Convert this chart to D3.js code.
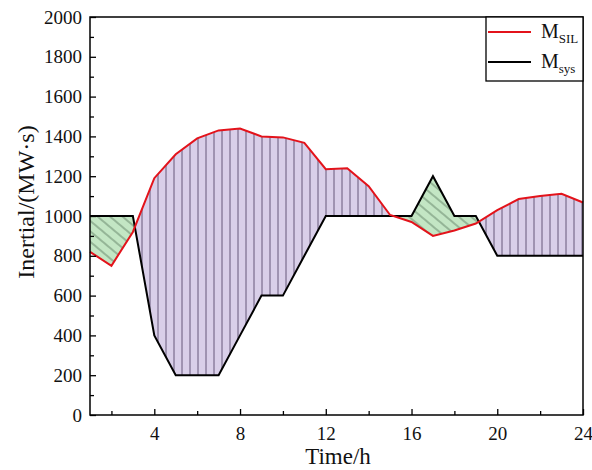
<!DOCTYPE html>
<html>
<head>
<meta charset="utf-8">
<script src="https://cdn.jsdelivr.net/npm/d3@7"></script>
<style>
  body { margin: 0; background: #fff; }
  svg text { font-family: "Liberation Serif", "Times New Roman", "DejaVu Serif", serif; fill: #111; }
</style>
</head>
<body>
<script>
// hours and the two inertia curves
const hours = d3.range(1, 25);
const mSIL = [820, 750, 920, 1190, 1310, 1390, 1430, 1440, 1400, 1395, 1368, 1235,
              1240, 1150, 1005, 970, 900, 927, 962, 1030, 1085, 1100, 1112, 1068];
const mSys = [1000, 1000, 1000, 400, 200, 200, 200, 400, 600, 600, 800, 1000,
              1000, 1000, 1000, 1000, 1200, 1000, 1000, 800, 800, 800, 800, 800];
const xMajor = [4, 8, 12, 16, 20, 24];
const xMinor = [2, 6, 10, 14, 18, 22];
const yMajor = d3.range(0, 2001, 200);
const yMinor = d3.range(100, 2000, 200);

const serif = '"Liberation Serif", "Times New Roman", "DejaVu Serif", serif';
const width = 592, height = 470;
const margin = {top: 17, right: 9, bottom: 55, left: 90};
const w = width - margin.left - margin.right;
const h = height - margin.top - margin.bottom;

const data = hours.map((t, i) => ({t: t, sil: mSIL[i], sys: mSys[i]}));

const svg = d3.select('body').append('svg')
  .attr('width', width)
  .attr('height', height)
  .attr('font-family', serif);

const x = d3.scaleLinear().domain([1, 24]).range([0, w]);
const y = d3.scaleLinear().domain([0, 2000]).range([h, 0]);

const defs = svg.append('defs');

const pv = defs.append('pattern')
  .attr('id', 'vlines').attr('patternUnits', 'userSpaceOnUse')
  .attr('width', 8).attr('height', 8);
pv.append('rect').attr('width', 8).attr('height', 8).attr('fill', '#d9cfe9');
pv.append('line').attr('x1', 4).attr('x2', 4).attr('y1', 0).attr('y2', 8)
  .attr('stroke', '#66587a').attr('stroke-width', 1);

const pg = defs.append('pattern')
  .attr('id', 'dlines').attr('patternUnits', 'userSpaceOnUse')
  .attr('width', 8).attr('height', 8)
  .attr('patternTransform', 'rotate(40)');
pg.append('rect').attr('width', 8).attr('height', 8).attr('fill', '#c3e6c4');
pg.append('line').attr('x1', 0).attr('x2', 8).attr('y1', 4).attr('y2', 4)
  .attr('stroke', '#4c6b52').attr('stroke-width', 0.8);

// clip regions above / below the black curve
defs.append('clipPath').attr('id', 'aboveSys')
  .append('path')
  .attr('d', d3.area().x(d => x(d.t)).y0(d => y(d.sys)).y1(y(2000))(data));
defs.append('clipPath').attr('id', 'belowSys')
  .append('path')
  .attr('d', d3.area().x(d => x(d.t)).y0(d => y(d.sys)).y1(y(0))(data));

const g = svg.append('g')
  .attr('transform', `translate(${margin.left},${margin.top})`);

const between = d3.area().x(d => x(d.t)).y0(d => y(d.sys)).y1(d => y(d.sil));

g.append('path').datum(data)
  .attr('d', between)
  .attr('fill', 'url(#vlines)')
  .attr('clip-path', 'url(#aboveSys)');

g.append('path').datum(data)
  .attr('d', between)
  .attr('fill', 'url(#dlines)')
  .attr('clip-path', 'url(#belowSys)');

const line = key => d3.line().x(d => x(d.t)).y(d => y(d[key]));

g.append('path').datum(data)
  .attr('d', line('sys'))
  .attr('fill', 'none').attr('stroke', '#000').attr('stroke-width', 2);

g.append('path').datum(data)
  .attr('d', line('sil'))
  .attr('fill', 'none').attr('stroke', '#e3131b').attr('stroke-width', 2);

// frame
g.append('rect')
  .attr('width', w).attr('height', h)
  .attr('fill', 'none').attr('stroke', '#000').attr('stroke-width', 1.5);

// axes with inward ticks
g.append('g').attr('transform', `translate(0,${h})`)
  .call(d3.axisBottom(x).tickValues(xMajor).tickSize(-6).tickPadding(12).tickFormat(d3.format('d')));
g.append('g').attr('transform', `translate(0,${h})`)
  .call(d3.axisBottom(x).tickValues(xMinor).tickSize(-4).tickFormat(''));
g.append('g')
  .call(d3.axisLeft(y).tickValues(yMajor).tickSize(-6).tickPadding(8).tickFormat(d3.format('d')));
g.append('g')
  .call(d3.axisLeft(y).tickValues(yMinor).tickSize(-4).tickFormat(''));

g.selectAll('.domain').remove();
g.selectAll('.tick line').attr('stroke', '#000').attr('stroke-width', 1.3);
g.selectAll('.tick').select(function() { return this.parentNode; })
  .attr('font-family', serif).attr('font-size', 19);
g.selectAll('.tick text')
  .style('font-family', serif)
  .style('font-size', '19px')
  .attr('fill', '#111');

// axis titles
svg.append('text')
  .attr('x', 338).attr('y', 464)
  .attr('text-anchor', 'middle')
  .style('font-size', '23px')
  .text('Time/h');

svg.append('text')
  .attr('transform', 'translate(34,202) rotate(-90)')
  .attr('text-anchor', 'middle')
  .style('font-size', '24px')
  .text('Inertial/(MW·s)');

// legend
const lg = g.append('g').attr('transform', `translate(${w - 97},0)`);
lg.append('rect')
  .attr('width', 97).attr('height', 64)
  .attr('fill', '#fff').attr('stroke', '#000').attr('stroke-width', 1.3);

const items = [
  {label: 'M', sub: 'SIL', color: '#e3131b'},
  {label: 'M', sub: 'sys', color: '#000'}
];
items.forEach((it, i) => {
  const yy = 15 + i * 30;
  lg.append('line')
    .attr('x1', 2).attr('x2', 45).attr('y1', yy).attr('y2', yy)
    .attr('stroke', it.color).attr('stroke-width', 2);
  const t = lg.append('text')
    .attr('x', 55).attr('y', yy + 6)
    .style('font-size', '20px');
  t.append('tspan').text(it.label);
  t.append('tspan').attr('dy', 5).style('font-size', '13px').text(it.sub);
});
</script>
</body>
</html>
